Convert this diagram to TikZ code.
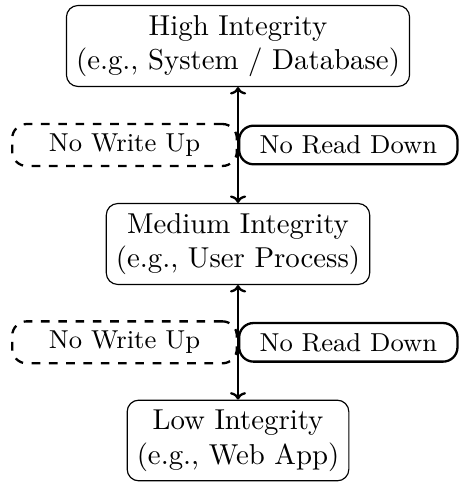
\documentclass[tikz,border=0pt]{standalone}
\usetikzlibrary{arrows.meta}
\begin{document}
\begin{tikzpicture}[x=0.3472pt, y=-0.3472pt,
  level/.style={draw, rounded corners, align=center},
  rule/.style={draw, thick, rounded corners=5pt, font=\small, minimum height=13.4pt},
  forbid/.style={rule, dashed, minimum width=78pt},
  allow/.style={rule, minimum width=75.8pt},
  flow/.style={thick, {To[length=2.6pt,width=5.6pt]}-{To[length=2.6pt,width=5.6pt]}}]
\useasboundingbox (0,0) rectangle (461,482);
% integrity levels
\node[level] (high) at (238,46)    {High Integrity\\(e.g., System / Database)};
\node[level] (med)  at (238,244)   {Medium Integrity\\(e.g., User Process)};
\node[level] (low)  at (238,440.5) {Low Integrity\\(e.g., Web App)};
% information flow between levels, with the rules that govern it
\draw[flow] (high) -- (med)
  node[midway, left, forbid] (nwu1) {No Write Up}
  node[midway, right, allow] (nrd1) {No Read Down};
\draw[flow] (med) -- (low)
  node[midway, left, forbid] (nwu2) {No Write Up}
  node[midway, right, allow] (nrd2) {No Read Down};
\end{tikzpicture}
\end{document}
